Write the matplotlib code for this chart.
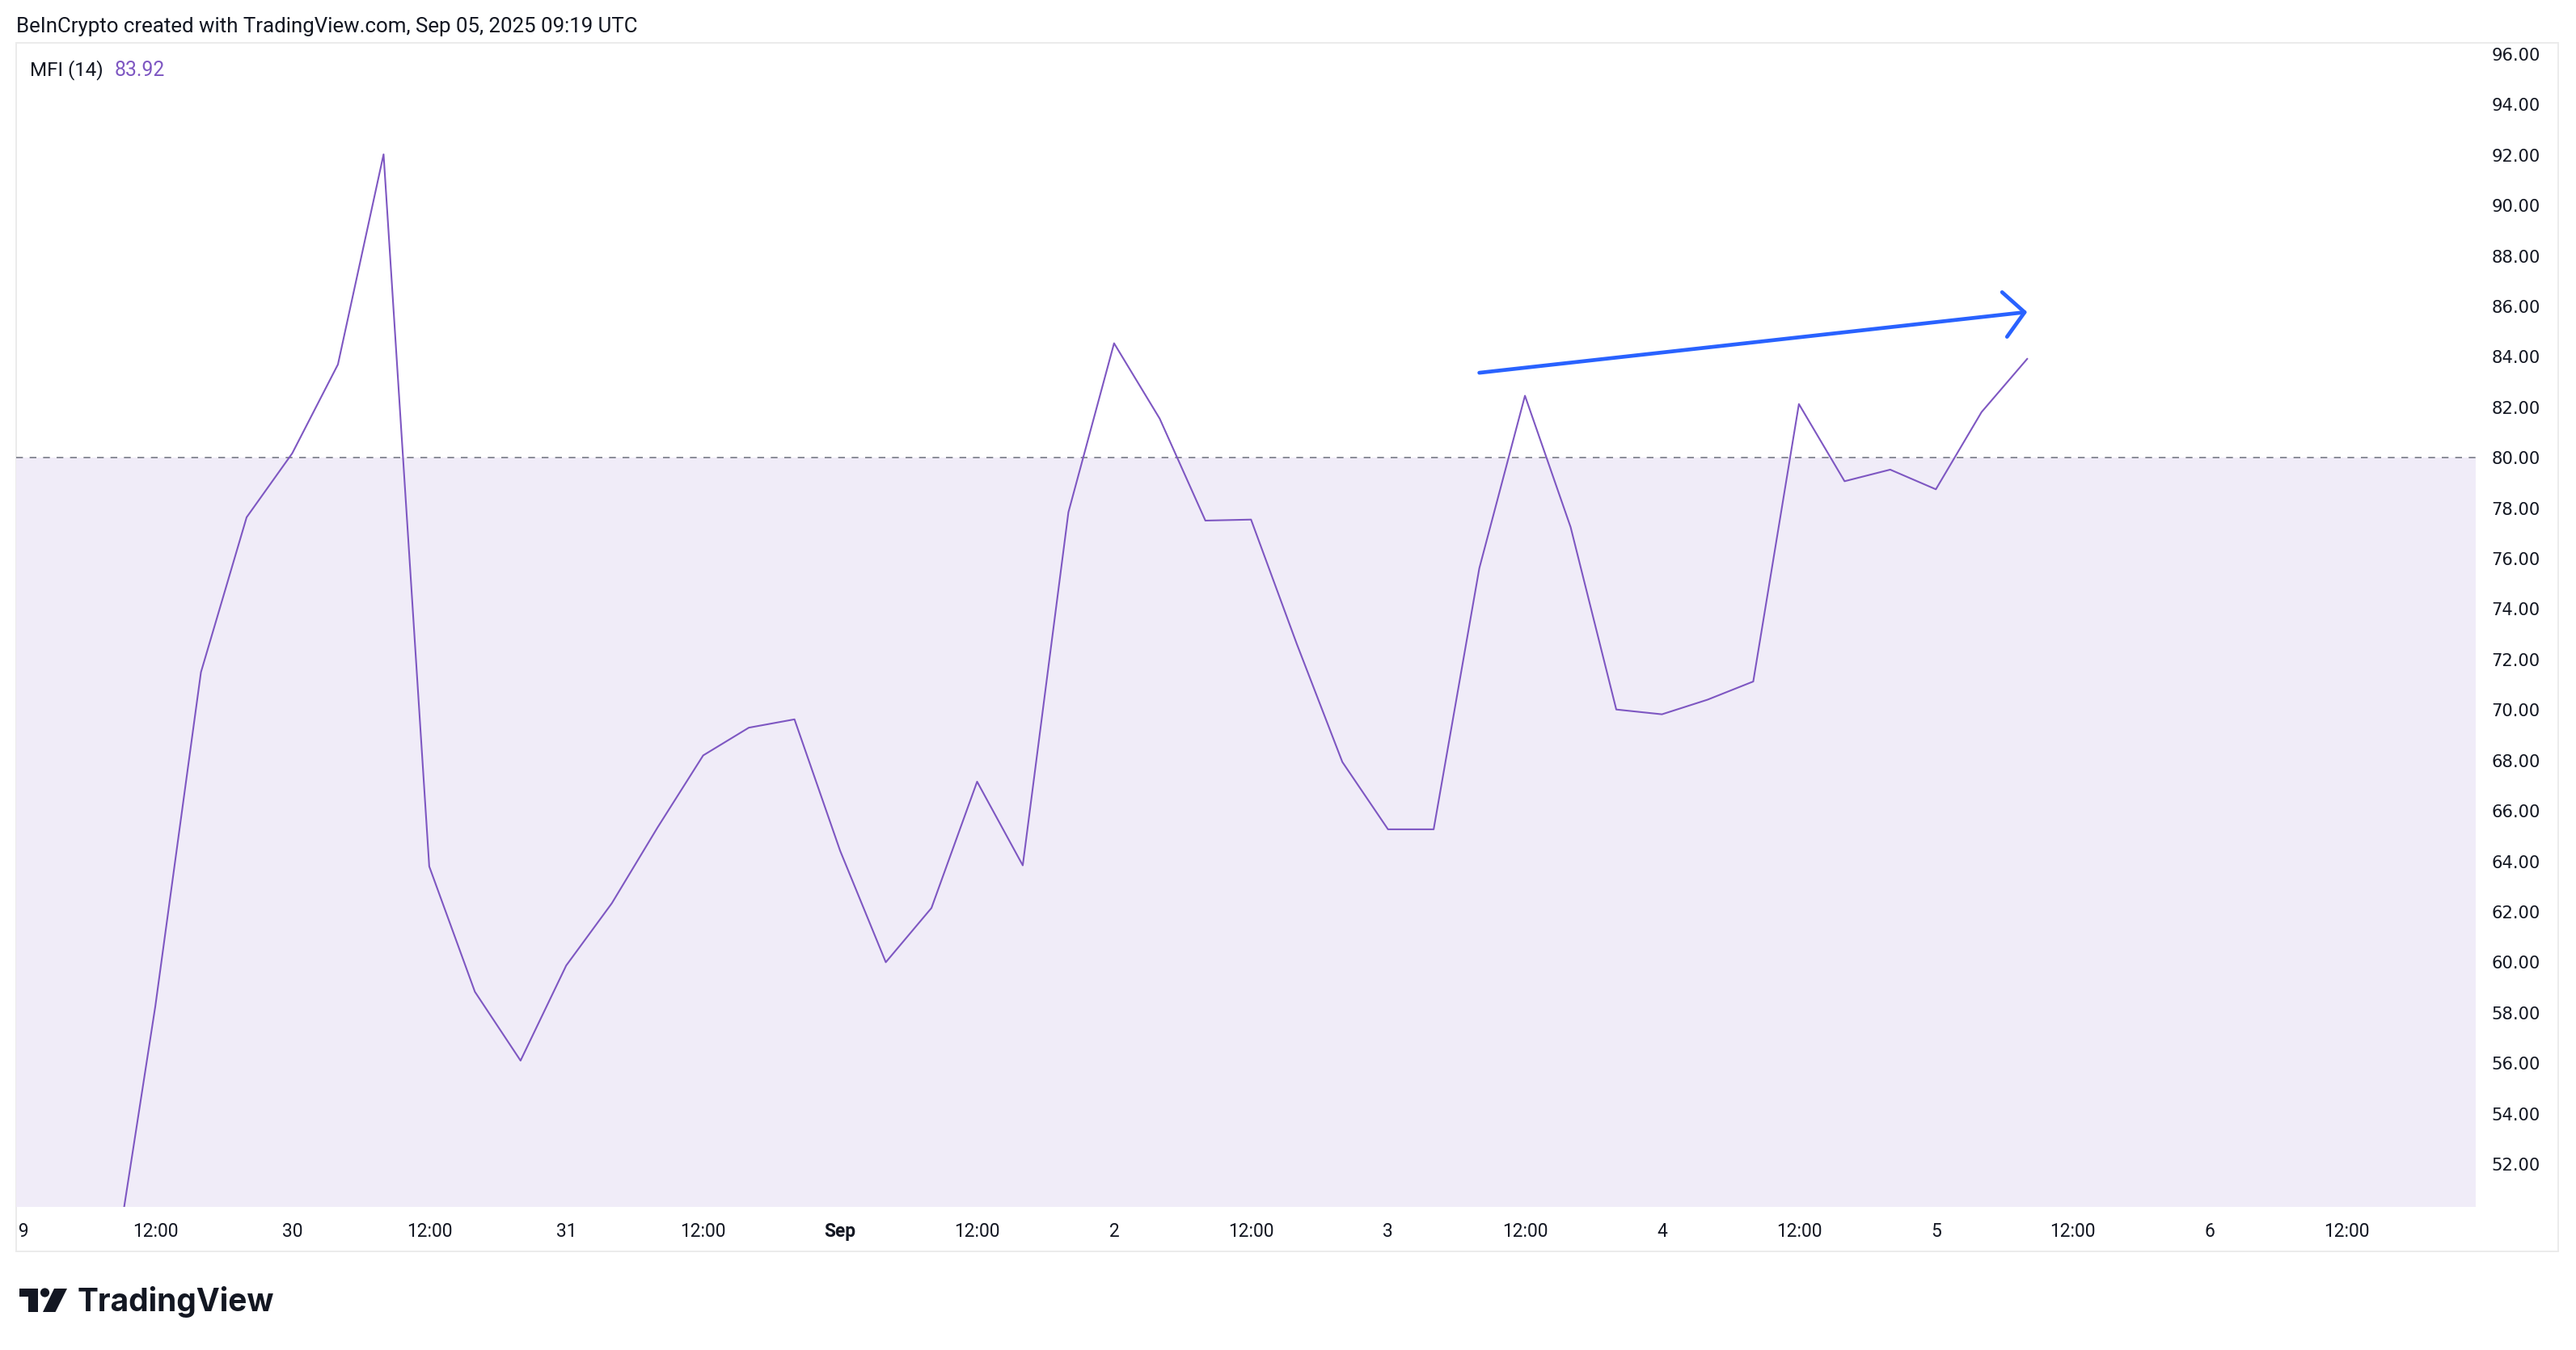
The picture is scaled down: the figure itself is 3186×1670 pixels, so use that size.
import datetime
import numpy as np
import pandas as pd
import matplotlib
matplotlib.use('Agg')
import matplotlib.pyplot as plt
import matplotlib.dates as mdates
from matplotlib.transforms import Bbox, TransformedBbox
from matplotlib.patches import Polygon, Circle, Rectangle

W, H, DPI = 3186, 1670, 200

# MFI(14) on 4h candles, first visible candle Aug 29 08:00 UTC
mfi_start = datetime.datetime(2025, 8, 29, 8)
mfi = [46.6, 58.25, 71.5, 77.64, 80.18, 83.7, 92.03, 63.8, 58.83, 56.1,
       59.87, 62.34, 65.34, 68.2, 69.3, 69.63, 64.42, 60.0, 62.15, 67.16,
       63.84, 77.84, 84.54, 81.55, 77.51, 77.55, 72.63, 67.94, 65.27, 65.27,
       75.62, 82.46, 77.25, 70.02, 69.83, 70.41, 71.13, 82.13, 79.07, 79.53,
       78.75, 81.81, 83.92]
times = pd.date_range(mfi_start, periods=len(mfi), freq='4h')

tick_times = pd.date_range('2025-08-29 00:00', '2025-09-06 12:00', freq='12h')
tick_labels = ['29', '12:00', '30', '12:00', '31', '12:00', 'Sep', '12:00',
               '2', '12:00', '3', '12:00', '4', '12:00', '5', '12:00', '6', '12:00']
yticks = np.arange(52, 97, 2)

upper_band = 80
lower_band = 20

# trend arrow drawn on the chart
arrow_from = (datetime.datetime(2025, 9, 3, 8), 83.37)
arrow_to = (datetime.datetime(2025, 9, 5, 8), 85.78)

header = 'BeInCrypto created with TradingView.com, Sep 05, 2025 09:19 UTC'
TXT = '#131722'
PURPLE = '#7E57C2'

fig = plt.figure(figsize=(W / DPI, H / DPI), dpi=DPI)
fig.patch.set_facecolor('white')

# pixel-space background axes for frame, header and logo
bg = fig.add_axes([0, 0, 1, 1], zorder=0)
bg.set_xlim(0, W)
bg.set_ylim(H, 0)
bg.axis('off')

L, R, T, B = 20, 3062, 53, 1493
ax = fig.add_axes([L / W, 1 - B / H, (R - L) / W, (B - T) / H], zorder=1)
ax.patch.set_alpha(0)

t0 = mdates.date2num(datetime.datetime(2025, 8, 29)) - 0.19 / 24
t1 = mdates.date2num(datetime.datetime(2025, 8, 29)) + 215.3 / 24
ax.set_xlim(t0, t1)
ax.set_ylim(50.3, 96.45)

ax.axhspan(lower_band, upper_band, color='#F0ECF8', lw=0, zorder=0)
ax.axhline(upper_band, color='#787B86', lw=0.6, dashes=(5, 5), zorder=1)
ax.plot(times, mfi, color=PURPLE, lw=0.75, zorder=3)

ax.annotate('', xy=(mdates.date2num(arrow_to[0]), arrow_to[1]),
            xytext=(mdates.date2num(arrow_from[0]), arrow_from[1]),
            arrowprops=dict(arrowstyle='->,head_length=0.45,head_width=0.5',
                            color='#2962FF', lw=1.7, shrinkA=0, shrinkB=0,
                            mutation_scale=20, capstyle='round'),
            zorder=4)

for s in ax.spines.values():
    s.set_visible(False)

ax.yaxis.tick_right()
ax.set_yticks(yticks)
ax.set_yticklabels(['%.2f' % v for v in yticks], family='DejaVu Sans')
ax.tick_params(axis='y', length=0, pad=7, labelsize=7.6, colors=TXT)

ax.set_xticks(mdates.date2num(tick_times))
ax.set_xticklabels(tick_labels, family='Roboto')
ax.tick_params(axis='x', length=0, pad=7, labelsize=8.2, colors=TXT)
clip = TransformedBbox(Bbox([[(L + 3) / W, 0], [R / W, 1]]), fig.transFigure)
for lbl in ax.get_xticklabels():
    lbl.set_clip_box(clip)
    lbl.set_clip_on(True)
    if lbl.get_text() == 'Sep':
        lbl.set_fontweight('bold')

# frame
bg.add_patch(Rectangle((L, T), 3164 - L, 1548 - T, fill=False, ec='#EBEBEB', lw=0.7))

bg.text(20, 33, header, family='Roboto', fontsize=9.3, color=TXT, va='center', ha='left')
bg.text(37, 87, 'MFI (14)', family='Roboto', fontsize=8.7, color=TXT, va='center', ha='left')
bg.text(142, 87, '83.92', family='Roboto', fontsize=8.9, color=PURPLE, va='center', ha='left')

# TradingView logo
k = '#131722'
bg.add_patch(Polygon([(24, 1594), (47, 1594), (47, 1623), (35, 1623), (35, 1604), (24, 1604)],
                     closed=True, fc=k, ec='none'))
bg.add_patch(Circle((55.5, 1599), 5.6, fc=k, ec='none'))
bg.add_patch(Polygon([(67, 1594), (83, 1594), (68.5, 1623), (53, 1623)], closed=True, fc=k, ec='none'))
bg.text(96, 1610, 'TradingView', family='Inter', fontweight='bold', fontsize=14,
        color=k, va='center', ha='left')

fig.savefig('out.png', dpi=DPI, facecolor='white')
